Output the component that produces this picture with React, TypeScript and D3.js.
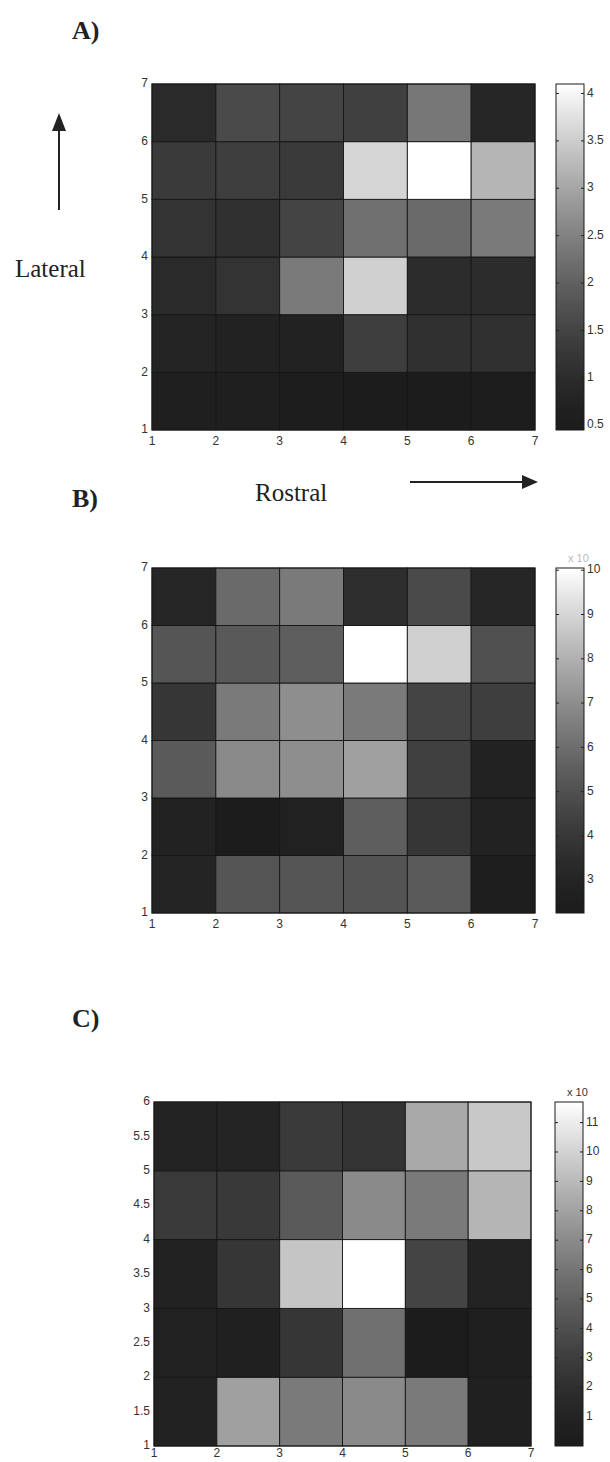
import React from "react";
import * as d3 from "d3";

// ---------- data (rows listed bottom -> top, columns x=1..6) ----------
const xTicks = [1, 2, 3, 4, 5, 6, 7];
const yTicksAB = [1, 2, 3, 4, 5, 6, 7];
const yTicksC = [1, 1.5, 2, 2.5, 3, 3.5, 4, 4.5, 5, 5.5, 6];

const panelAValues = [
  [0.62, 0.6, 0.55, 0.45, 0.48, 0.5],
  [0.79, 0.72, 0.72, 1.39, 1.09, 1.09],
  [0.95, 1.16, 2.4, 3.54, 1.0, 1.0],
  [1.16, 1.09, 1.51, 2.24, 2.15, 2.4],
  [1.31, 1.39, 1.31, 3.6, 4.1, 3.2],
  [0.95, 1.62, 1.51, 1.43, 2.35, 0.84],
];
const panelAColorDomain = [0.45, 4.1];
const panelAColorTicks = [0.5, 1, 1.5, 2, 2.5, 3, 3.5, 4];

const panelBValues = [
  [2.98, 5.16, 5.16, 5.1, 5.34, 2.5],
  [2.84, 2.26, 2.75, 5.49, 3.92, 2.84],
  [5.34, 6.9, 7.02, 7.55, 4.35, 2.84],
  [3.92, 6.41, 7.02, 6.41, 4.51, 4.27],
  [5.16, 5.3, 5.49, 10.05, 8.86, 4.98],
  [3.1, 5.89, 6.41, 3.54, 4.75, 3.1],
];
const panelBColorDomain = [2.26, 10.05];
const panelBColorTicks = [3, 4, 5, 6, 7, 8, 9, 10];

const panelCValues = [
  [0.9, 7.94, 6.23, 6.97, 6.23, 0.7],
  [0.8, 0.6, 2.49, 5.75, 0.0, 0.5],
  [0.9, 2.49, 9.48, 11.7, 3.39, 1.0],
  [2.76, 2.7, 4.63, 6.97, 6.23, 8.83],
  [1.0, 1.1, 2.76, 2.28, 8.28, 9.6],
];
const panelCColorDomain = [0, 11.7];
const panelCColorTicks = [1, 2, 3, 4, 5, 6, 7, 8, 9, 10, 11];

// ---------- styles ----------
const SANS = "'Liberation Sans', Arial, sans-serif";
const SERIF = "'Liberation Serif', 'Times New Roman', serif";
const TICK_COLOR = "#333";

function grayOf(t: number) {
  const c = Math.max(0, Math.min(1, t));
  const g = Math.round(28 + 227 * Math.pow(c, 1.4));
  return `rgb(${g},${g},${g})`;
}

type PanelProps = {
  id: string;
  values: number[][];
  yTicks: number[];
  yDomain: [number, number];
  colorDomain: number[];
  colorTicks: number[];
  x0: number;
  y0: number;
  w: number;
  h: number;
  cbX: number;
  cbW: number;
  xLabelOffset: number;
  exponentLabel?: { text: string; opacity: number } | null;
};

function Panel(p: PanelProps) {
  const xScale = d3.scaleLinear().domain([1, 7]).range([p.x0, p.x0 + p.w]);
  const yScale = d3.scaleLinear().domain(p.yDomain).range([p.y0 + p.h, p.y0]);
  const norm = d3.scaleLinear().domain(p.colorDomain).range([0, 1]);
  const color = (v: number) => grayOf(norm(v));
  const cbScale = d3
    .scaleLinear()
    .domain(p.colorDomain)
    .range([p.y0 + p.h, p.y0]);
  const stops = d3.range(0, 1.0001, 0.02);
  const yStart = p.yDomain[0];

  return (
    <g>
      <defs>
        <linearGradient id={`cb-${p.id}`} x1="0" y1="1" x2="0" y2="0">
          {stops.map((s) => (
            <stop key={s} offset={s} stopColor={grayOf(s)} />
          ))}
        </linearGradient>
      </defs>
      {p.values.map((row, j) =>
        row.map((v, i) => (
          <rect
            key={`${i}-${j}`}
            x={xScale(i + 1)}
            y={yScale(yStart + j + 1)}
            width={xScale(i + 2) - xScale(i + 1)}
            height={yScale(yStart + j) - yScale(yStart + j + 1)}
            fill={color(v)}
            stroke="#151515"
            strokeWidth={0.9}
          />
        ))
      )}
      <rect
        x={p.x0}
        y={p.y0}
        width={p.w}
        height={p.h}
        fill="none"
        stroke="#1a1a1a"
        strokeWidth={1}
      />
      {p.yTicks.map((t) => (
        <text
          key={`y${t}`}
          x={p.x0 - 4}
          y={yScale(t)}
          textAnchor="end"
          dominantBaseline="middle"
          fontFamily={SANS}
          fontSize={12}
          fill={TICK_COLOR}
        >
          {t}
        </text>
      ))}
      {xTicks.map((t) => (
        <text
          key={`x${t}`}
          x={xScale(t)}
          y={p.y0 + p.h + p.xLabelOffset}
          textAnchor="middle"
          dominantBaseline="middle"
          fontFamily={SANS}
          fontSize={12}
          fill={TICK_COLOR}
        >
          {t}
        </text>
      ))}
      <rect
        x={p.cbX}
        y={p.y0}
        width={p.cbW}
        height={p.h}
        fill={`url(#cb-${p.id})`}
        stroke="#1a1a1a"
        strokeWidth={1}
      />
      {p.colorTicks.map((t) => (
        <g key={`c${t}`}>
          <line
            x1={p.cbX}
            x2={p.cbX + 3}
            y1={cbScale(t)}
            y2={cbScale(t)}
            stroke="#222"
            strokeWidth={1}
          />
          <line
            x1={p.cbX + p.cbW - 3}
            x2={p.cbX + p.cbW}
            y1={cbScale(t)}
            y2={cbScale(t)}
            stroke="#222"
            strokeWidth={1}
          />
          <text
            x={p.cbX + p.cbW + 3}
            y={cbScale(t)}
            dominantBaseline="middle"
            fontFamily={SANS}
            fontSize={12}
            fill={TICK_COLOR}
          >
            {t}
          </text>
        </g>
      ))}
      {p.exponentLabel && (
        <text
          x={p.cbX + 12}
          y={p.y0 - 6}
          fontFamily={SANS}
          fontSize={11}
          fill={TICK_COLOR}
          opacity={p.exponentLabel.opacity}
        >
          {p.exponentLabel.text}
        </text>
      )}
    </g>
  );
}

export default function App() {
  return (
    <svg
      width={610}
      height={1462}
      style={{ position: "absolute", left: 0, top: 0, background: "#fff" }}
    >
      <rect x={0} y={0} width={610} height={1462} fill="#fff" />
      <text x={72} y={39} fontFamily={SERIF} fontWeight="bold" fontSize={26} fill="#222">
        A)
      </text>
      <text x={72} y={507} fontFamily={SERIF} fontWeight="bold" fontSize={26} fill="#222">
        B)
      </text>
      <text x={72} y={1027} fontFamily={SERIF} fontWeight="bold" fontSize={26} fill="#222">
        C)
      </text>

      <line x1={59} y1={128} x2={59} y2={210} stroke="#222" strokeWidth={2} />
      <polygon points="59,113 52,131 66,131" fill="#222" />
      <text x={15} y={277} fontFamily={SERIF} fontSize={25} fill="#222">
        Lateral
      </text>

      <text x={255} y={501} fontFamily={SERIF} fontSize={25} fill="#222">
        Rostral
      </text>
      <line x1={410} y1={482} x2={524} y2={482} stroke="#222" strokeWidth={2} />
      <polygon points="538,482 522,475 522,489" fill="#222" />

      <Panel
        id="A"
        values={panelAValues}
        yTicks={yTicksAB}
        yDomain={[1, 7]}
        colorDomain={panelAColorDomain}
        colorTicks={panelAColorTicks}
        x0={152}
        y0={84}
        w={383}
        h={346}
        cbX={556}
        cbW={28}
        xLabelOffset={12}
        exponentLabel={null}
      />
      <Panel
        id="B"
        values={panelBValues}
        yTicks={yTicksAB}
        yDomain={[1, 7]}
        colorDomain={panelBColorDomain}
        colorTicks={panelBColorTicks}
        x0={152}
        y0={568}
        w={383}
        h={345}
        cbX={556}
        cbW={28}
        xLabelOffset={12}
        exponentLabel={{ text: "x 10", opacity: 0.35 }}
      />
      <Panel
        id="C"
        values={panelCValues}
        yTicks={yTicksC}
        yDomain={[1, 6]}
        colorDomain={panelCColorDomain}
        colorTicks={panelCColorTicks}
        x0={154}
        y0={1102}
        w={377}
        h={344}
        cbX={555}
        cbW={28}
        xLabelOffset={8}
        exponentLabel={{ text: "x 10", opacity: 1 }}
      />
    </svg>
  );
}
